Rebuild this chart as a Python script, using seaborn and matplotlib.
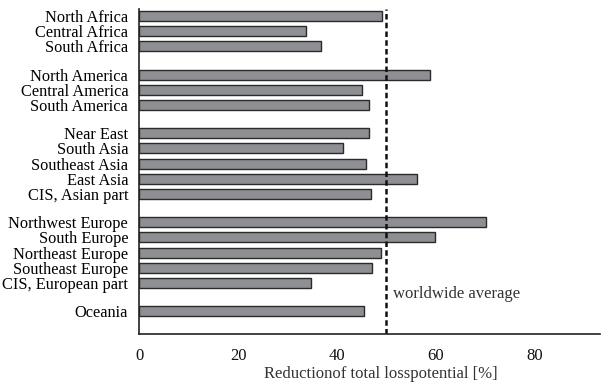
import matplotlib
matplotlib.use("Agg")
import matplotlib.pyplot as plt
import seaborn as sns
import pandas as pd

africa = ["North Africa", "Central Africa", "South Africa"]
africa_vals = [49.1, 33.7, 36.8]
america = ["North America", "Central America", "South America"]
america_vals = [58.8, 45.2, 46.5]
asia = ["Near East", "South Asia", "Southeast Asia", "East Asia", "CIS, Asian part"]
asia_vals = [46.5, 41.2, 46.0, 56.3, 47.0]
europe = ["Northwest Europe", "South Europe", "Northeast Europe", "Southeast Europe", "CIS, European part"]
europe_vals = [70.3, 59.9, 49.0, 47.1, 34.8]
oceania = ["Oceania"]
oceania_vals = [45.5]
worldwide_average = 50
xticks = [0, 20, 40, 60, 80]

groups = [(africa, africa_vals), (america, america_vals), (asia, asia_vals),
          (europe, europe_vals), (oceania, oceania_vals)]
gap = 0.85
rows = []
pos = 0.0
for names, vals in groups:
    for n, v in zip(names, vals):
        rows.append({"region": n, "value": v, "pos": pos})
        pos += 1
    pos += gap
df = pd.DataFrame(rows)

sns.set_style("white")
plt.rcParams["font.family"] = ["Liberation Serif", "DejaVu Serif"]

fig = plt.figure(figsize=(6.01, 3.88), dpi=100)
ax = fig.add_axes([139.3 / 601, 1 - 334 / 388, (600 - 139.3) / 601, (334 - 9) / 388])

sns.barplot(data=df, x="value", y="pos", orient="y", native_scale=True,
            color="#8e8f93", edgecolor="#2a2a2a", linewidth=1.0, width=0.66,
            saturation=1, ax=ax)

ax.set_ylim(20.9, -0.46)
ax.set_xlim(0, 93.3)
ax.set_yticks(df["pos"], df["region"])
ax.set_xticks(xticks)
ax.tick_params(axis="y", length=0, pad=8, labelsize=11.8, labelcolor="#000000")
ax.tick_params(axis="x", direction="out", length=5, width=1, color="#222222",
               pad=5, labelsize=12, labelcolor="#111111")
for s in ["top", "right"]:
    ax.spines[s].set_visible(False)
for s in ["left", "bottom"]:
    ax.spines[s].set_color("#222222")
    ax.spines[s].set_linewidth(1.2)

ax.axvline(worldwide_average, color="#111111", linestyle=(0, (2.2, 1.3)), linewidth=1.8)
ax.text(worldwide_average + 1.3, 18.3, "worldwide average", fontsize=12,
        color="#333333", va="center", ha="left")

ax.set_xlabel("Reductionof total losspotential [%]", fontsize=12, color="#333333")
ax.xaxis.set_label_coords(0.525, -0.1)
ax.set_ylabel("")

fig.savefig("out.png", dpi=100)
